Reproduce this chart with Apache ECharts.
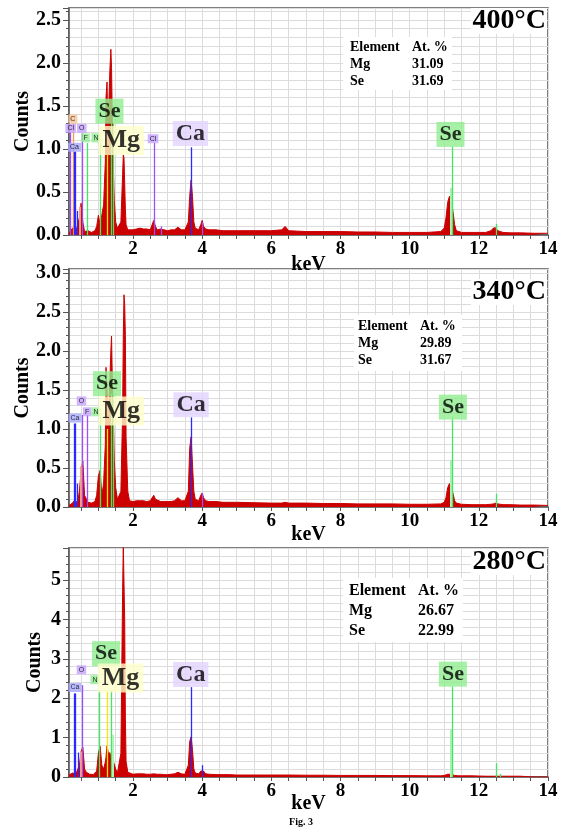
<!DOCTYPE html>
<html><head><meta charset="utf-8">
<script src="https://cdn.jsdelivr.net/npm/echarts@6/dist/echarts.min.js"></script>
<style>html,body{margin:0;padding:0;background:#fff}#c{width:566px;height:833px}</style>
</head><body><div id="c"></div>
<script>
// ---------- DATA ----------
const panelTitles = ['400°C', '340°C', '280°C'];
const xLabelValues = [2, 4, 6, 8, 10, 12, 14];
const yMaxValues = [2.64, 3.05, 5.81];

const spectrum400 = [[0.15,0.02],[0.2,0.03],[0.25,0.08],[0.3,0.1],[0.35,0.04],[0.4,0.05],[0.45,0.2],[0.5,0.37],[0.55,0.15],[0.6,0.04],[0.65,0.03],[0.7,0.05],[0.75,0.03],[0.8,0.03],[0.85,0.04],[0.9,0.05],[0.95,0.1],[1.0,0.23],[1.05,0.12],[1.1,0.1],[1.15,0.35],[1.2,0.85],[1.22,1.6],[1.25,1.78],[1.28,1.1],[1.3,1.5],[1.33,1.9],[1.36,2.16],[1.38,1.95],[1.4,1.4],[1.43,0.8],[1.46,0.4],[1.5,0.15],[1.55,0.08],[1.6,0.07],[1.65,0.15],[1.7,0.7],[1.72,0.93],[1.74,0.9],[1.76,0.6],[1.78,0.3],[1.8,0.12],[1.85,0.06],[1.9,0.05],[2.0,0.06],[2.1,0.07],[2.2,0.08],[2.3,0.07],[2.4,0.07],[2.5,0.06],[2.55,0.08],[2.6,0.17],[2.65,0.1],[2.7,0.06],[2.8,0.07],[2.9,0.06],[3.0,0.05],[3.1,0.06],[3.2,0.06],[3.3,0.09],[3.4,0.06],[3.5,0.06],[3.6,0.15],[3.64,0.45],[3.68,0.64],[3.72,0.45],[3.76,0.15],[3.8,0.08],[3.9,0.06],[3.96,0.12],[4.0,0.17],[4.04,0.1],[4.1,0.07],[4.2,0.06],[4.4,0.06],[4.6,0.05],[4.8,0.05],[5.0,0.05],[5.5,0.05],[6.0,0.05],[6.3,0.06],[6.4,0.1],[6.5,0.05],[7.0,0.04],[7.5,0.04],[8.0,0.04],[8.5,0.035],[9.0,0.035],[9.5,0.03],[10.0,0.03],[10.5,0.03],[10.9,0.04],[11.0,0.08],[11.05,0.2],[11.1,0.38],[11.15,0.45],[11.2,0.42],[11.25,0.28],[11.3,0.12],[11.35,0.05],[11.4,0.04],[11.5,0.03],[11.8,0.03],[12.2,0.03],[12.35,0.05],[12.42,0.08],[12.48,0.085],[12.55,0.05],[12.62,0.04],[12.7,0.03],[12.9,0.025],[13.2,0.025],[13.6,0.02],[14.0,0.02]];

const spectrum340 = [[0.15,0.02],[0.2,0.03],[0.25,0.05],[0.3,0.08],[0.35,0.1],[0.4,0.06],[0.45,0.2],[0.5,0.45],[0.55,0.59],[0.6,0.15],[0.65,0.17],[0.7,0.06],[0.75,0.04],[0.8,0.05],[0.85,0.06],[0.9,0.07],[0.95,0.15],[1.0,0.4],[1.05,0.47],[1.1,0.15],[1.15,0.3],[1.2,0.8],[1.22,1.79],[1.25,1.5],[1.28,1.0],[1.3,1.3],[1.33,1.6],[1.36,2.0],[1.38,2.19],[1.4,1.7],[1.43,1.2],[1.46,0.6],[1.5,0.25],[1.55,0.1],[1.6,0.08],[1.65,0.2],[1.7,1.2],[1.72,2.2],[1.74,2.72],[1.76,2.6],[1.78,2.2],[1.8,0.9],[1.85,0.2],[1.9,0.08],[2.0,0.07],[2.1,0.08],[2.2,0.08],[2.3,0.08],[2.4,0.07],[2.5,0.08],[2.55,0.1],[2.6,0.15],[2.65,0.1],[2.7,0.08],[2.8,0.07],[2.9,0.07],[3.0,0.07],[3.1,0.07],[3.2,0.08],[3.3,0.12],[3.4,0.08],[3.5,0.08],[3.6,0.2],[3.64,0.75],[3.68,0.9],[3.72,0.55],[3.76,0.2],[3.8,0.1],[3.9,0.08],[3.96,0.15],[4.0,0.18],[4.04,0.12],[4.1,0.08],[4.2,0.07],[4.4,0.07],[4.6,0.06],[4.8,0.06],[5.0,0.06],[5.5,0.055],[6.0,0.05],[6.3,0.05],[6.4,0.06],[6.5,0.05],[7.0,0.05],[7.5,0.045],[8.0,0.045],[8.5,0.04],[9.0,0.04],[9.5,0.04],[10.0,0.035],[10.5,0.035],[10.9,0.04],[11.0,0.06],[11.05,0.12],[11.1,0.25],[11.15,0.3],[11.2,0.28],[11.25,0.18],[11.3,0.08],[11.35,0.05],[11.4,0.04],[11.5,0.035],[11.8,0.03],[12.2,0.03],[12.35,0.035],[12.42,0.04],[12.48,0.05],[12.55,0.04],[12.62,0.035],[12.7,0.03],[12.9,0.03],[13.2,0.025],[13.6,0.025],[14.0,0.02]];

const spectrum280 = [[0.15,0.05],[0.2,0.06],[0.25,0.1],[0.3,0.1],[0.35,0.08],[0.4,0.1],[0.45,0.3],[0.5,0.65],[0.55,0.76],[0.6,0.2],[0.65,0.12],[0.7,0.1],[0.75,0.07],[0.8,0.06],[0.85,0.06],[0.9,0.07],[0.95,0.15],[1.0,0.6],[1.05,0.78],[1.1,0.3],[1.15,0.2],[1.2,0.38],[1.22,0.5],[1.25,0.79],[1.28,0.65],[1.3,0.55],[1.33,0.62],[1.36,0.5],[1.38,0.45],[1.4,0.5],[1.43,0.4],[1.46,0.35],[1.5,0.2],[1.55,0.1],[1.6,0.08],[1.65,0.6],[1.7,4.7],[1.72,5.9],[1.74,5.9],[1.76,4.0],[1.78,1.5],[1.8,0.4],[1.85,0.12],[1.9,0.08],[2.0,0.07],[2.1,0.08],[2.2,0.08],[2.3,0.08],[2.4,0.07],[2.5,0.07],[2.55,0.07],[2.6,0.08],[2.65,0.07],[2.7,0.07],[2.8,0.07],[2.9,0.06],[3.0,0.06],[3.1,0.07],[3.2,0.08],[3.3,0.12],[3.4,0.08],[3.5,0.07],[3.6,0.3],[3.64,0.9],[3.68,1.02],[3.72,0.7],[3.76,0.2],[3.8,0.1],[3.9,0.08],[3.96,0.15],[4.0,0.2],[4.04,0.15],[4.1,0.08],[4.2,0.07],[4.4,0.06],[4.6,0.06],[4.8,0.06],[5.0,0.05],[5.5,0.05],[6.0,0.05],[6.3,0.05],[6.4,0.05],[6.5,0.05],[7.0,0.045],[7.5,0.045],[8.0,0.04],[8.5,0.04],[9.0,0.04],[9.5,0.035],[10.0,0.035],[10.5,0.03],[10.9,0.03],[11.0,0.04],[11.05,0.05],[11.1,0.07],[11.15,0.08],[11.2,0.07],[11.25,0.05],[11.3,0.04],[11.35,0.03],[11.4,0.03],[11.5,0.03],[11.8,0.03],[12.2,0.02],[12.35,0.02],[12.42,0.02],[12.48,0.02],[12.55,0.02],[12.62,0.02],[12.7,0.02],[12.9,0.02],[13.2,0.02],[13.6,0.0],[14.0,0.0]];

// element marker lines: [keV, top count, colour key]
const lines400 = [[0.18,1.2,'P'],[0.277,1.3,'O'],[0.302,0.97,'B'],[0.341,0.97,'B'],[0.40,0.28,'B'],[0.45,0.33,'S'],[0.525,1.18,'P'],[0.677,1.07,'G'],[1.04,1.07,'G'],[1.253,0.93,'Y'],[1.379,1.3,'G'],[1.419,1.3,'G'],[2.622,1.07,'P'],[2.815,0.1,'P'],[3.69,1.02,'B'],[4.01,0.15,'P'],[11.18,0.55,'L'],[11.22,1.03,'G'],[12.5,0.13,'G']];
const lines340 = [[0.302,1.07,'B'],[0.341,1.07,'B'],[0.40,0.3,'B'],[0.5,0.52,'S'],[0.525,1.18,'P'],[0.677,1.18,'P'],[1.04,1.18,'G'],[1.253,1.0,'Y'],[1.379,1.45,'G'],[1.419,1.45,'G'],[3.69,1.15,'B'],[4.01,0.18,'P'],[11.18,0.6,'L'],[11.22,1.15,'G'],[12.5,0.17,'G']];
const lines280 = [[0.302,2.12,'B'],[0.341,2.12,'B'],[0.42,0.62,'B'],[0.5,0.65,'S'],[0.525,2.33,'P'],[1.02,2.2,'G'],[1.253,2.2,'Y'],[1.379,2.2,'G'],[1.42,1.07,'L'],[3.69,2.28,'B'],[4.01,0.3,'B'],[11.18,1.19,'L'],[11.22,2.3,'G'],[12.5,0.35,'G'],[12.62,0.08,'G']];

// element labels: [text, keV, count, kind]
const labels400 = [['C',0.26,1.35,'sO'],['Cl',0.2,1.24,'sP'],['O',0.52,1.24,'sP'],['Ca',0.31,1.02,'sB'],['F',0.63,1.13,'sG'],['N',0.93,1.13,'sG'],['Cl',2.58,1.12,'sP'],['Se',1.32,1.44,'se'],['Mg',1.66,1.10,'mg'],['Ca',3.66,1.18,'ca'],['Se',11.18,1.17,'se']];
const labels340 = [['Ca',0.32,1.14,'sB'],['O',0.51,1.36,'sP'],['F',0.675,1.22,'sP'],['N',0.93,1.22,'sG'],['Se',1.25,1.58,'se'],['Mg',1.66,1.23,'mg'],['Ca',3.68,1.31,'ca'],['Se',11.25,1.28,'se']];
const labels280 = [['Ca',0.32,2.27,'sB'],['O',0.51,2.72,'sP'],['N',0.9,2.47,'sG'],['Se',1.22,3.13,'se'],['Mg',1.64,2.51,'mg'],['Ca',3.67,2.6,'ca'],['Se',11.25,2.61,'se']];

const tableHeader = ['Element', 'At. %'];
const table400 = [['Mg','31.09'],['Se','31.69']];
const table340 = [['Mg','29.89'],['Se','31.67']];
const table280 = [['Mg','26.67'],['Se','22.99']];
const caption = 'Fig. 3';

// ---------- STYLE / LAYOUT ----------
const FONT = '"Liberation Serif","Times New Roman",serif';
const lineColors = {P:'#9b4dff', O:'#ff9a3c', B:'#2a2aff', G:'#3fe860', Y:'#ffe400', L:'#a8f5b4', S:'#f2a08c'};
const labelKinds = {
  se:{bg:'#90ee90', size:22, pad:[1,3], fam:FONT, w:'bold'},
  mg:{bg:'#ffffcc', size:26, pad:[1,4], fam:FONT, w:'bold'},
  ca:{bg:'#e4d4ff', size:24, pad:[0,3], fam:FONT, w:'bold'},
  sO:{bg:'#f8c496', size:7, pad:[1,2], fam:'"Liberation Sans",sans-serif', w:'normal'},
  sP:{bg:'#c7a3ff', size:7, pad:[1,2], fam:'"Liberation Sans",sans-serif', w:'normal'},
  sB:{bg:'#a9a9ff', size:7, pad:[1,2], fam:'"Liberation Sans",sans-serif', w:'normal'},
  sG:{bg:'#90ee90', size:7, pad:[1,2], fam:'"Liberation Sans",sans-serif', w:'normal'}
};

const panels = [
  {top:8, height:227, major:0.5, minor:0.1, dec:1, spec:spectrum400, lines:lines400, labels:labels400, table:table400,
   gapX:20, gapY:36, titleY:21, tbox:[343,37,109,53], cols:[350,412], row0:47, rowStep:17, tfs:14},
  {top:269, height:238, major:0.5, minor:0.1, dec:1, spec:spectrum340, lines:lines340, labels:labels340, table:table340,
   gapX:18, gapY:36, titleY:292, tbox:[354,315,108,56], cols:[358,420], row0:326, rowStep:17.3, tfs:14},
  {top:548, height:229, major:1, minor:0.2, dec:0, spec:spectrum280, lines:lines280, labels:labels280, table:table280,
   gapX:17, gapY:24, titleY:562, tbox:[343,578,120,64], cols:[349,418], row0:591, rowStep:19.8, tfs:16}
];

const isMult = (v, step) => Math.abs(v / step - Math.round(v / step)) < 1e-6;
const axisFont = {fontFamily:FONT, fontWeight:'bold', fontSize:19, color:'#000'};
const gridColor = '#dcdcdc';
const axisColor = '#555';

const grid = [], xAxis = [], yAxis = [], series = [], graphic = [];
panels.forEach((p, i) => {
  grid.push({left:69, right:18, top:p.top, height:p.height, show:true, borderColor:axisColor, borderWidth:1.5,
    backgroundColor:'#fff', containLabel:false, outerBoundsMode:'none'});
  xAxis.push({type:'value', gridIndex:i, position:'bottom', min:0.15, max:14, splitNumber:28,
    name:'keV', nameLocation:'middle', nameGap:p.gapX, nameMoveOverlap:false,
    nameTextStyle:{fontFamily:FONT, fontWeight:'bold', fontSize:20, color:'#000'},
    axisLine:{show:true, onZero:false, lineStyle:{color:axisColor, width:1.5}},
    axisTick:{show:true, length:4, lineStyle:{color:axisColor}},
    axisLabel:Object.assign({margin:5, showMinLabel:false, hideOverlap:false, formatter:v => (isMult(v,1) && xLabelValues.includes(Math.round(v))) ? String(Math.round(v)) : ''}, axisFont),
    splitLine:{show:true, lineStyle:{color:gridColor, width:1}}});
  yAxis.push({type:'value', gridIndex:i, position:'left', min:0, max:yMaxValues[i], interval:p.minor,
    axisLine:{show:false}, axisTick:{show:true, length:3, lineStyle:{color:axisColor}},
    axisLabel:{show:false}, splitLine:{show:true, lineStyle:{color:gridColor, width:1}}});
  yAxis.push({type:'value', gridIndex:i, position:'left', offset:0, min:0, max:yMaxValues[i], interval:p.major,
    name:'Counts', nameLocation:'middle', nameGap:p.gapY, nameMoveOverlap:false,
    nameTextStyle:{fontFamily:FONT, fontWeight:'bold', fontSize:20, color:'#000'},
    axisLine:{show:true, onZero:false, lineStyle:{color:axisColor, width:1.5}},
    axisTick:{show:true, length:6, lineStyle:{color:axisColor}},
    axisLabel:Object.assign({margin:8, hideOverlap:false, formatter:v => isMult(v, p.major) ? v.toFixed(p.dec) : ''}, axisFont, {fontSize:20}),
    splitLine:{show:false}});
  series.push({type:'line', xAxisIndex:i, yAxisIndex:2*i, data:p.spec, showSymbol:false, symbol:'none',
    lineStyle:{color:'#cc0000', width:1}, areaStyle:{color:'#cc0000', opacity:1}, z:2, silent:true,
    markLine:{silent:true, symbol:['none','none'], label:{show:false}, animation:false,
      data:p.lines.map(l => [{coord:[l[0],0], lineStyle:{color:lineColors[l[2]], width:(l[2]==='S'||l[2]==='L')?2:1.3, type:'solid'}}, {coord:[l[0],l[1]]}])}});
  series.push({type:'scatter', xAxisIndex:i, yAxisIndex:2*i, symbolSize:0, z:6, silent:true,
    data:p.labels.map(l => {
      const k = labelKinds[l[3]];
      return {value:[l[1], l[2]], label:{show:true, position:'inside', formatter:l[0], backgroundColor:k.bg, padding:k.pad,
        fontSize:k.size, fontFamily:k.fam, fontWeight:k.w, color:'#000', lineHeight:Math.round(k.size*1.05)}};
    })});
  graphic.push({type:'rect', shape:{x:471, y:p.titleY-13, width:76, height:26}, style:{fill:'#fff'}, z:10});
  graphic.push({type:'text', x:546, y:p.titleY, z:11, style:{text:panelTitles[i], align:'right', verticalAlign:'middle',
    font:'bold 28px ' + FONT, fill:'#000'}});
  graphic.push({type:'rect', shape:{x:p.tbox[0], y:p.tbox[1], width:p.tbox[2], height:p.tbox[3]}, style:{fill:'#fff'}, z:10});
  [tableHeader].concat(p.table).forEach((row, r) => {
    row.forEach((cell, c) => {
      graphic.push({type:'text', x:p.cols[c], y:p.row0 + r*p.rowStep, z:11, style:{text:cell, align:'left', verticalAlign:'middle',
        font:'bold ' + p.tfs + 'px ' + FONT, fill:'#000'}});
    });
  });
});
graphic.push({type:'text', x:301, y:822, z:11, style:{text:caption, align:'center', verticalAlign:'middle', font:'bold 10px ' + FONT, fill:'#000'}});

const chart = echarts.init(document.getElementById('c'), null, {renderer:'canvas', width:566, height:833});
chart.setOption({animation:false, backgroundColor:'#fff', grid, xAxis, yAxis, series, graphic});
</script></body></html>
